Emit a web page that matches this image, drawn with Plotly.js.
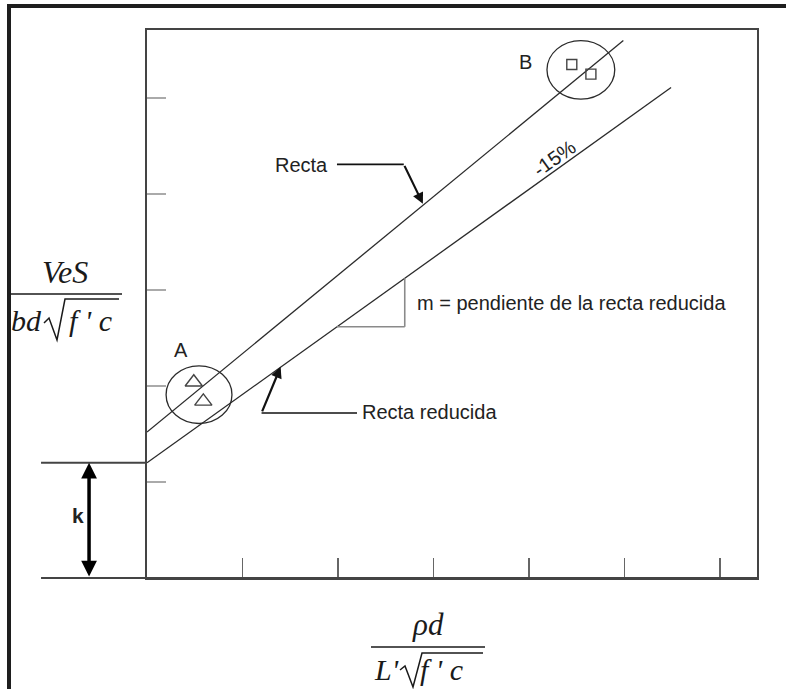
<!DOCTYPE html>
<html>
<head>
<meta charset="utf-8">
<script src="https://cdn.plot.ly/plotly-3.0.1.min.js"></script>
<style>html,body{margin:0;padding:0;background:#fff}</style>
</head>
<body>
<div id="chart" style="width:786px;height:689px"></div>
<script>
// Axis extent, in tick units (one tick = one unit on both axes)
const xMax = 6.39;
const yMax = 5.71;
const xTicks = [1, 2, 3, 4, 5, 6];
const yTicks = [1, 2, 3, 4, 5];

// Intercept k of the reduced line
const k = 1.2;

// "Recta": line through the test results
const rectaX = [0, 4.99];
const rectaY = [1.52, 5.60];

// "Recta reducida": the line lowered by 15 %
const reducidaX = [0, 5.49];
const reducidaY = [1.2, 5.11];
const reduccion = '-15%';

// Group A results (triangles) and group B results (squares)
const grupoAX = [0.49, 0.59];
const grupoAY = [2.04, 1.84];
const grupoBX = [4.45, 4.65];
const grupoBY = [5.35, 5.25];

// Ellipses drawn round each group: [x0, x1, y0, y1]
const elipseA = [0.20, 0.89, 1.61, 2.21];
const elipseB = [4.19, 4.90, 4.99, 5.60];

// Slope triangle under the reduced line: run from x = 1.99 to x = 2.70
const pendienteX = [1.99, 2.70];

// ---------------------------------------------------------------
const W = 786, H = 689;
const M = {l: 147, r: 29, t: 30, b: 111};
const plotW = W - M.l - M.r, plotH = H - M.t - M.b;

// data units -> paper fractions (for items outside the plotting area)
const px = x => x / xMax;
const py = y => y / yMax;
// screen pixels -> paper fractions (for the axis labels)
const sx = p => (p - M.l) / plotW;
const sy = p => (H - M.b - p) / plotH;
// polyline in screen pixels -> SVG path in paper fractions
const pathPx = pts => pts.map((p, i) => (i ? 'L' : 'M') + sx(p[0]).toFixed(5) + ',' + sy(p[1]).toFixed(5)).join(' ');

const lineRed = x => reducidaY[0] + (reducidaY[1] - reducidaY[0]) / (reducidaX[1] - reducidaX[0]) * (x - reducidaX[0]);

const ink = '#2b2b2b';
const txt = {family: 'Liberation Sans, Arial, sans-serif', size: 20, color: '#222'};
const serif = (s) => ({family: 'Liberation Serif, Times New Roman, serif', size: s, color: '#1a1a1a'});

const traces = [
  {x: rectaX, y: rectaY, mode: 'lines', line: {color: ink, width: 1.3}, hoverinfo: 'skip'},
  {x: reducidaX, y: reducidaY, mode: 'lines', line: {color: ink, width: 1.3}, hoverinfo: 'skip'},
  {x: grupoAX, y: grupoAY, mode: 'markers',
   marker: {symbol: 'triangle-up-open', size: 15, color: '#444', line: {width: 1.4, color: '#444'}}},
  {x: grupoBX, y: grupoBY, mode: 'markers',
   marker: {symbol: 'square-open', size: 10, color: '#444', line: {width: 1.4, color: '#444'}}}
];

const shapes = [
  // outer frame strokes
  {type: 'line', xref: 'paper', yref: 'paper', x0: sx(7), x1: sx(786), y0: sy(6), y1: sy(6), line: {color: '#1e1e1e', width: 4}},
  {type: 'line', xref: 'paper', yref: 'paper', x0: sx(9), x1: sx(9), y0: sy(4), y1: sy(689), line: {color: '#1e1e1e', width: 4}},
  // baseline extended to the left, and level of k
  {type: 'line', xref: 'paper', yref: 'paper', x0: px(-1.11), x1: 1, y0: 0, y1: 0, line: {color: '#444', width: 2}},
  {type: 'line', xref: 'paper', yref: 'paper', x0: px(-1.11), x1: 0, y0: py(k), y1: py(k), line: {color: '#444', width: 2}},
  // ellipses round groups A and B
  {type: 'circle', xref: 'x', yref: 'y', x0: elipseA[0], x1: elipseA[1], y0: elipseA[2], y1: elipseA[3], line: {color: ink, width: 1.3}},
  {type: 'circle', xref: 'x', yref: 'y', x0: elipseB[0], x1: elipseB[1], y0: elipseB[2], y1: elipseB[3], line: {color: ink, width: 1.3}},
  // slope triangle
  {type: 'line', xref: 'x', yref: 'y', x0: pendienteX[0], x1: pendienteX[1], y0: lineRed(pendienteX[0]), y1: lineRed(pendienteX[0]), line: {color: '#8a8a8a', width: 1.6}},
  {type: 'line', xref: 'x', yref: 'y', x0: pendienteX[1], x1: pendienteX[1], y0: lineRed(pendienteX[0]), y1: lineRed(pendienteX[1]), line: {color: '#8a8a8a', width: 1.6}},
  // leader lines
  {type: 'line', xref: 'x', yref: 'y', x0: 1.99, x1: 2.69, y0: 4.31, y1: 4.31, line: {color: '#111', width: 1.6}},
  {type: 'line', xref: 'x', yref: 'y', x0: 1.20, x1: 2.20, y0: 1.72, y1: 1.72, line: {color: '#111', width: 1.6}},
  // vertical axis label: fraction bar and radical sign
  {type: 'line', xref: 'paper', yref: 'paper', x0: sx(10), x1: sx(122), y0: sy(294), y1: sy(294), line: {color: '#1a1a1a', width: 1.6}},
  {type: 'path', xref: 'paper', yref: 'paper', path: pathPx([[44, 323], [49, 318], [57, 340], [65, 299], [119, 299]]),
   line: {color: '#1a1a1a', width: 1.5}},
  // horizontal axis label: fraction bar and radical sign
  {type: 'line', xref: 'paper', yref: 'paper', x0: sx(371), x1: sx(485), y0: sy(647), y1: sy(647), line: {color: '#1a1a1a', width: 1.6}},
  {type: 'path', xref: 'paper', yref: 'paper', path: pathPx([[400, 670], [405, 666], [413, 687], [422, 653], [483, 653]]),
   line: {color: '#1a1a1a', width: 1.5}}
];

const annotations = [
  {x: 0.36, y: 2.375, xref: 'x', yref: 'y', text: 'A', showarrow: false, font: txt},
  {x: 3.96, y: 5.375, xref: 'x', yref: 'y', text: 'B', showarrow: false, font: txt},
  {x: 1.92, y: 4.30, xref: 'x', yref: 'y', text: 'Recta', xanchor: 'right', showarrow: false, font: txt},
  {x: 2.23, y: 1.73, xref: 'x', yref: 'y', text: 'Recta reducida', xanchor: 'left', showarrow: false, font: txt},
  {x: 2.81, y: 2.865, xref: 'x', yref: 'y', text: 'm = pendiente de la recta reducida', xanchor: 'left', showarrow: false, font: txt},
  {x: 4.27, y: 4.375, xref: 'x', yref: 'y', text: reduccion, textangle: -35.6, showarrow: false, font: txt},
  // leader arrows
  {x: 2.89, y: 3.90, xref: 'x', yref: 'y', ax: 2.69, ay: 4.31, axref: 'x', ayref: 'y', text: '',
   showarrow: true, arrowhead: 2, arrowsize: 1, arrowwidth: 2.2, arrowcolor: '#111'},
  {x: 1.40, y: 2.20, xref: 'x', yref: 'y', ax: 1.20, ay: 1.72, axref: 'x', ayref: 'y', text: '',
   showarrow: true, arrowhead: 2, arrowsize: 1, arrowwidth: 2.2, arrowcolor: '#111'},
  // k dimension arrow
  {x: px(-0.607), y: py(k), xref: 'paper', yref: 'paper', ax: 0, ay: k / yMax * plotH, text: '',
   showarrow: true, arrowhead: 2, startarrowhead: 2, arrowside: 'end+start', arrowsize: 0.9, startarrowsize: 0.9,
   arrowwidth: 3.5, arrowcolor: '#000'},
  {x: px(-0.72), y: py(0.65), xref: 'paper', yref: 'paper', xanchor: 'center', yanchor: 'middle', text: '<b>k</b>', showarrow: false,
   font: {family: 'Liberation Sans, Arial, sans-serif', size: 21, color: '#222'}},
  // vertical axis label: VeS / (bd sqrt(f'c))
  {x: sx(65), y: sy(272), xref: 'paper', yref: 'paper', xanchor: 'center', yanchor: 'middle', text: '<i>VeS</i>', showarrow: false, font: serif(32)},
  {x: sx(9), y: sy(320), xref: 'paper', yref: 'paper', xanchor: 'left', yanchor: 'middle', text: '<i>bd</i>', showarrow: false, font: serif(30)},
  {x: sx(67), y: sy(320), xref: 'paper', yref: 'paper', xanchor: 'left', yanchor: 'middle', text: "<i>f ' c</i>", showarrow: false, font: serif(30)},
  // horizontal axis label: rho d / (L' sqrt(f'c))
  {x: sx(428), y: sy(624), xref: 'paper', yref: 'paper', xanchor: 'center', yanchor: 'middle', text: '<i>ρd</i>', showarrow: false, font: serif(31)},
  {x: sx(372), y: sy(669), xref: 'paper', yref: 'paper', xanchor: 'left', yanchor: 'middle', text: "<i>L'</i>", showarrow: false, font: serif(30)},
  {x: sx(418), y: sy(669), xref: 'paper', yref: 'paper', xanchor: 'left', yanchor: 'middle', text: "<i>f ' c</i>", showarrow: false, font: serif(30)}
];

const layout = {
  width: W, height: H,
  margin: M,
  paper_bgcolor: '#fff', plot_bgcolor: '#fff',
  showlegend: false,
  xaxis: {range: [0, xMax], tickvals: xTicks, ticks: 'inside', ticklen: 20, tickwidth: 1.5, tickcolor: '#666',
          showticklabels: false, showgrid: false, zeroline: false,
          showline: true, mirror: true, linecolor: '#444', linewidth: 1.6, fixedrange: true},
  yaxis: {range: [0, yMax], tickvals: yTicks, ticks: 'inside', ticklen: 19, tickwidth: 2, tickcolor: '#aaa',
          showticklabels: false, showgrid: false, zeroline: false,
          showline: true, mirror: true, linecolor: '#444', linewidth: 1.6, fixedrange: true},
  shapes: shapes,
  annotations: annotations
};

Plotly.newPlot('chart', traces, layout, {displayModeBar: false, staticPlot: true});
</script>
</body>
</html>
